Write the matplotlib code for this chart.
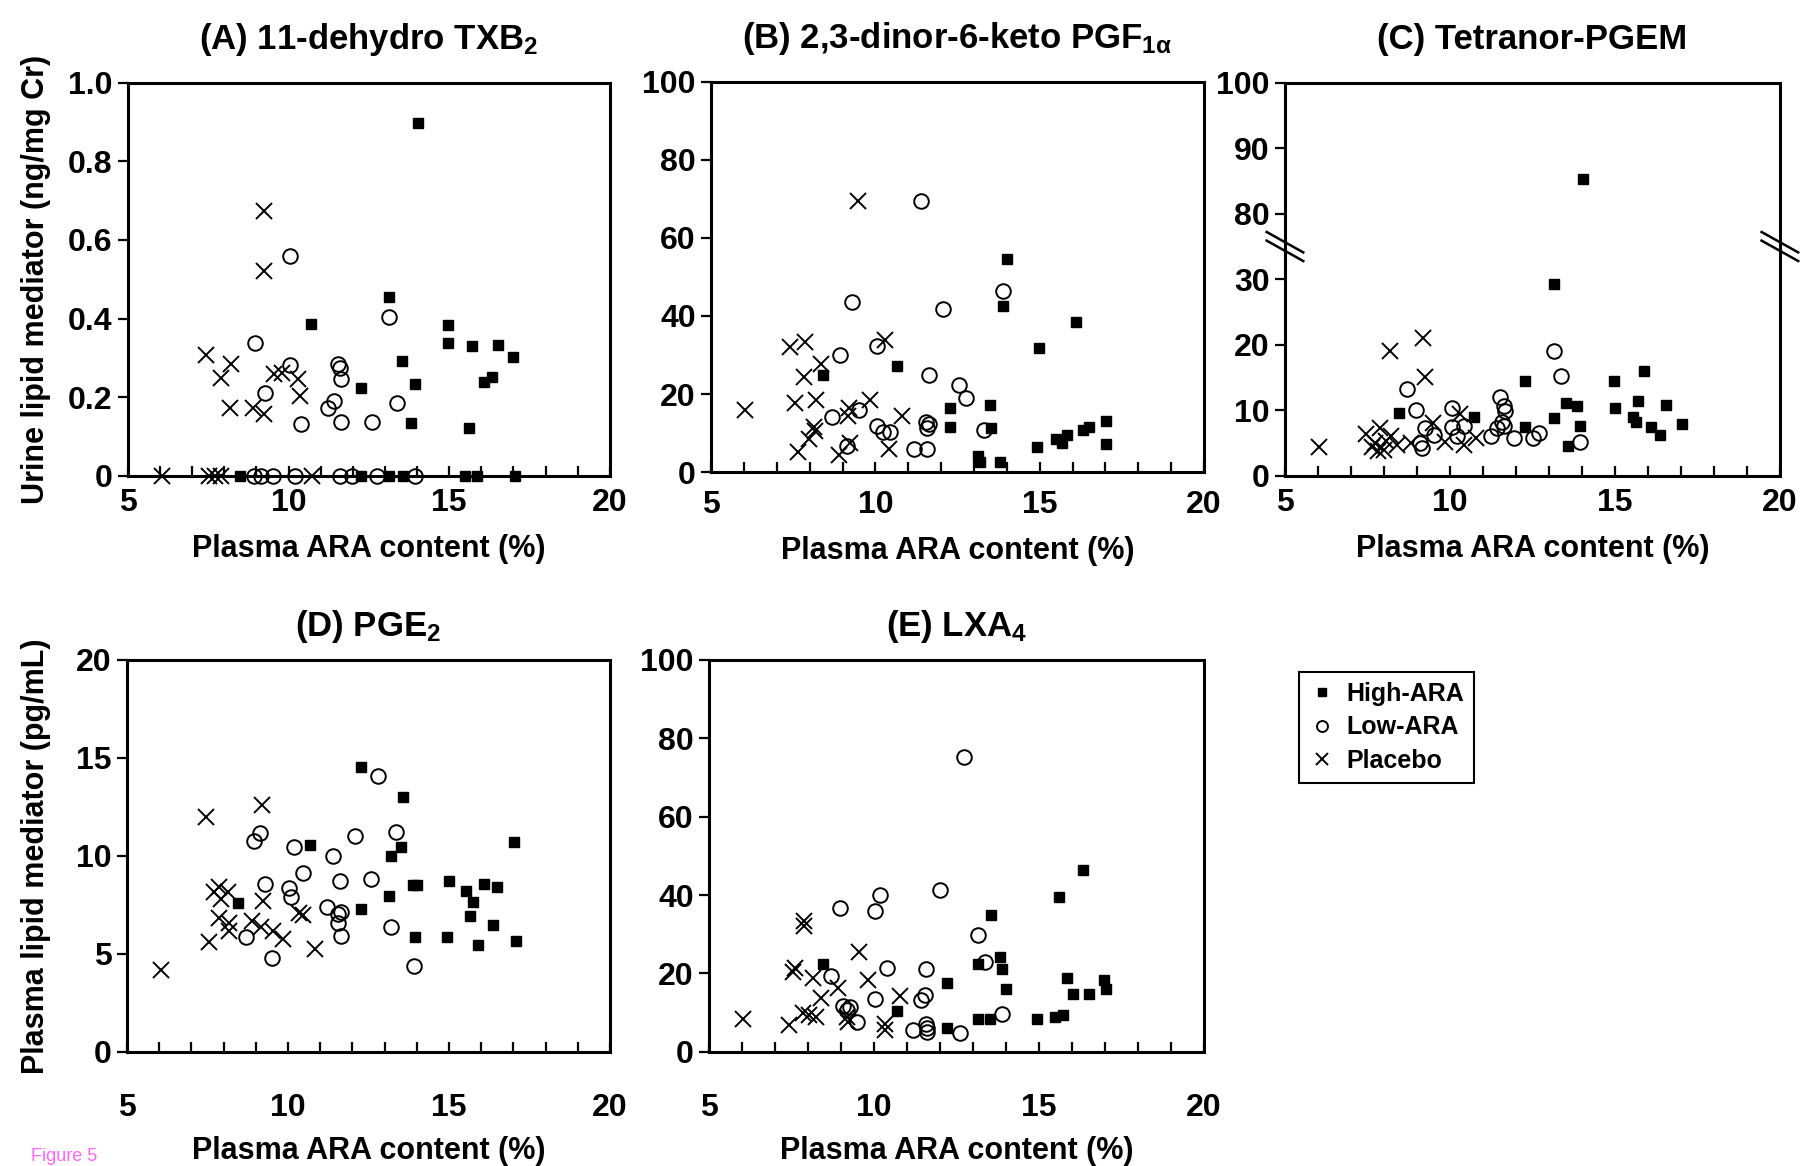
import numpy as np
import matplotlib
matplotlib.use("Agg")
import matplotlib.pyplot as plt
from matplotlib.ticker import FixedLocator, FixedFormatter

plt.rcParams['font.family'] = ['Liberation Sans Narrow', 'Liberation Sans', 'DejaVu Sans']
plt.rcParams['font.weight'] = 'bold'
plt.rcParams['mathtext.fontset'] = 'custom'
plt.rcParams['mathtext.rm'] = 'Liberation Sans:bold'
plt.rcParams['mathtext.it'] = 'Liberation Sans:bold'
plt.rcParams['mathtext.default'] = 'rm'

# ---- data (x = plasma ARA content, %) ----
# (A) 11-dehydro TXB2, ng/mg Cr
a_high_x = [14.02, 13.13, 10.71, 14.95, 14.95, 15.72, 16.52, 16.99, 13.52, 13.92, 16.33,
            16.07, 12.25, 13.81, 15.61, 8.48, 12.25, 13.13, 13.57, 15.48, 15.85, 17.04]
a_high_y = [0.898, 0.454, 0.387, 0.383, 0.338, 0.329, 0.333, 0.301, 0.292, 0.233, 0.252,
            0.238, 0.224, 0.134, 0.122, 0, 0, 0, 0, 0, 0, 0]
a_low_x = [10.04, 13.13, 8.97, 10.04, 11.53, 11.59, 11.63, 9.28, 11.41, 11.22, 13.36,
           10.40, 11.63, 12.61, 8.91, 9.15, 9.50, 10.21, 11.59, 11.96, 12.74, 13.94]
a_low_y = [0.558, 0.405, 0.338, 0.283, 0.285, 0.274, 0.247, 0.211, 0.190, 0.172, 0.184,
           0.131, 0.138, 0.138, 0, 0, 0, 0, 0, 0, 0, 0]
a_pla_x = [9.25, 9.22, 7.43, 7.90, 8.20, 9.56, 9.81, 10.30, 10.36, 8.18, 8.88, 9.22,
           6.05, 7.53, 7.71, 7.90, 10.73]
a_pla_y = [0.674, 0.520, 0.308, 0.249, 0.285, 0.258, 0.262, 0.247, 0.202, 0.172, 0.172, 0.158,
           0, 0, 0, 0, 0]

# (B) 2,3-dinor-6-keto PGF1a, ng/mg Cr
b_high_x = [14.00, 13.87, 16.10, 14.97, 10.65, 8.41, 13.48, 12.26, 12.26, 13.53, 17.02,
            16.51, 16.32, 15.82, 15.51, 15.67, 14.92, 17.02, 13.12, 13.79, 13.17]
b_high_y = [54.5, 42.5, 38.5, 31.8, 27.3, 25.0, 17.2, 16.4, 11.7, 11.4, 13.1,
            11.7, 10.8, 9.5, 8.6, 7.5, 6.4, 7.3, 4.1, 2.7, 2.5]
b_low_x = [11.39, 13.89, 9.28, 12.06, 8.91, 10.05, 11.64, 12.55, 12.77, 9.49, 8.68,
           11.55, 11.64, 11.58, 10.05, 10.22, 10.46, 13.30, 9.14, 11.18, 11.58]
b_low_y = [69.5, 46.4, 43.5, 41.7, 30.0, 32.2, 24.9, 22.3, 19.1, 15.9, 14.1,
           12.9, 12.3, 11.4, 11.8, 10.2, 10.4, 10.9, 6.7, 5.9, 5.9]
b_pla_x = [9.47, 10.28, 7.87, 7.40, 8.36, 7.84, 8.18, 7.55, 6.03, 9.84, 9.20,
           9.17, 10.81, 8.13, 8.16, 7.98, 7.64, 9.24, 8.89, 10.42]
b_pla_y = [69.5, 33.8, 33.4, 32.0, 27.6, 24.3, 18.4, 17.7, 15.9, 18.6, 16.5,
           14.3, 14.5, 11.5, 10.5, 8.4, 5.2, 7.6, 4.3, 5.9]

# (C) Tetranor-PGEM, ng/mg Cr (broken axis)
c_high_x = [14.03, 13.16, 12.26, 14.97, 15.87, 13.53, 13.85, 15.01, 15.71, 16.54, 8.46,
            10.73, 13.16, 15.55, 15.65, 12.26, 13.94, 17.03, 16.10, 16.36, 13.59]
c_high_y = [85.3, 29.3, 14.4, 14.4, 16.0, 11.1, 10.6, 10.3, 11.4, 10.8, 9.6,
            8.9, 8.8, 8.9, 8.2, 7.4, 7.6, 7.9, 7.4, 6.2, 4.6]
c_low_x = [13.16, 13.36, 8.69, 11.53, 11.64, 11.68, 8.96, 10.07, 10.07, 10.42, 9.25, 9.51,
           10.21, 11.59, 11.64, 11.43, 11.24, 11.95, 12.52, 12.70, 13.94, 9.16, 9.08]
c_low_y = [19.0, 15.2, 13.3, 12.0, 10.7, 9.9, 10.0, 10.4, 7.4, 7.6, 7.3, 6.2,
           6.0, 8.2, 7.6, 7.3, 6.0, 5.8, 5.7, 6.5, 5.1, 4.3, 5.0]
c_pla_x = [9.18, 8.17, 9.24, 10.30, 9.49, 10.79, 10.42, 9.86, 8.81, 7.47, 7.88, 8.21,
           8.40, 7.63, 7.82, 8.00, 6.04, 7.74, 8.05]
c_pla_y = [21.0, 19.1, 15.0, 9.5, 8.1, 5.7, 4.7, 5.1, 5.0, 6.3, 7.3, 6.1,
           4.7, 4.4, 3.8, 4.0, 4.4, 5.0, 5.3]

# (D) PGE2, pg/mL
d_high_x = [12.28, 13.56, 17.02, 10.68, 13.51, 13.19, 14.99, 16.10, 16.49, 13.87, 14.00,
            15.54, 15.75, 13.14, 8.45, 12.28, 15.64, 16.37, 13.93, 14.93, 15.90, 17.07]
d_high_y = [14.55, 12.98, 10.73, 10.56, 10.47, 10.0, 8.73, 8.58, 8.41, 8.49, 8.5,
            8.2, 7.65, 7.95, 7.6, 7.28, 6.93, 6.46, 5.84, 5.84, 5.47, 5.66]
d_low_x = [12.78, 13.35, 9.13, 8.94, 12.07, 10.18, 11.40, 10.46, 11.60, 12.57, 9.27,
           10.02, 10.09, 11.21, 11.65, 11.56, 11.56, 13.19, 11.66, 8.71, 9.51, 13.90]
d_low_y = [14.1, 11.2, 11.15, 10.74, 11.03, 10.46, 10.0, 9.1, 8.73, 8.83, 8.58,
           8.34, 7.9, 7.39, 7.13, 7.02, 6.55, 6.36, 5.92, 5.84, 4.76, 4.40]
d_pla_x = [9.20, 7.46, 7.87, 7.71, 8.15, 7.93, 9.22, 7.87, 8.18, 8.18, 8.89, 9.16,
           9.53, 9.83, 10.33, 10.46, 10.85, 7.56, 6.05]
d_pla_y = [12.6, 11.97, 8.43, 8.17, 8.14, 7.8, 7.7, 6.85, 6.59, 6.14, 6.66, 6.38,
           6.14, 5.73, 7.07, 6.97, 5.25, 5.6, 4.16]

# (E) LXA4, pg/mL
e_high_x = [16.32, 15.60, 13.55, 13.81, 13.14, 13.89, 8.46, 12.22, 14.01, 15.84, 16.97,
            17.03, 16.04, 16.50, 10.69, 15.74, 15.49, 13.14, 13.50, 14.93, 12.22]
e_high_y = [46.4, 39.6, 35.0, 24.2, 22.4, 21.2, 22.4, 17.6, 16.0, 18.8, 18.4,
            15.9, 14.8, 14.8, 10.3, 9.3, 8.9, 8.4, 8.4, 8.4, 6.1]
e_low_x = [12.74, 12.01, 10.19, 8.96, 10.02, 13.14, 13.35, 10.40, 11.58, 8.70, 11.53, 11.42,
           10.03, 9.07, 9.28, 9.19, 9.48, 13.89, 11.56, 11.59, 11.62, 11.19, 12.60]
e_low_y = [75.3, 41.4, 40.1, 36.8, 35.9, 29.8, 22.9, 21.5, 21.2, 19.3, 14.4, 13.1,
           13.4, 11.7, 11.4, 10.6, 7.5, 9.7, 7.2, 6.1, 5.0, 5.6, 4.7]
e_pla_x = [7.88, 7.89, 9.53, 7.60, 7.53, 8.15, 9.82, 8.90, 8.38, 10.78, 7.86, 8.03,
           8.23, 9.19, 9.21, 10.32, 10.34, 7.42, 6.04]
e_pla_y = [33.3, 32.2, 25.4, 21.5, 20.4, 18.8, 18.2, 16.3, 13.7, 14.2, 10.0, 9.3,
           8.8, 8.9, 7.6, 7.0, 5.6, 6.7, 8.4]

group_names = ['High-ARA', 'Low-ARA', 'Placebo']

TICK_FS = 23
LABEL_FS = 22
TITLE_FS = 25


def draw_groups(ax, hx, hy, lx, ly, px, py):
    ax.plot(hx, hy, 's', ms=7, color='black', ls='none', clip_on=False, zorder=3,
            label=group_names[0])
    ax.plot(lx, ly, 'o', ms=10.5, mfc='none', mec='black', mew=1.4, ls='none',
            clip_on=False, zorder=3, label=group_names[1])
    ax.plot(px, py, 'x', ms=11, color='black', mew=1.4, ls='none', clip_on=False,
            zorder=3, label=group_names[2])


def style(ax, title, ylim, yticks, ylabels, xpad, xlabelpad, tpad):
    ax.set_xlim(5, 20)
    ax.set_ylim(*ylim)
    ax.set_xticks([5, 10, 15, 20])
    ax.set_xticks(np.arange(5, 21), minor=True)
    ax.yaxis.set_major_locator(FixedLocator(yticks))
    ax.yaxis.set_major_formatter(FixedFormatter(ylabels))
    ax.tick_params(axis='x', which='both', direction='in', length=7, width=1.6,
                   labelsize=TICK_FS, pad=xpad)
    ax.tick_params(axis='y', which='major', direction='out', length=7, width=1.6,
                   labelsize=TICK_FS, pad=4)
    ax.tick_params(axis='y', which='minor', left=False)
    for sp in ax.spines.values():
        sp.set_linewidth(2.2)
    ax.set_title(title, fontsize=TITLE_FS, fontweight='bold', pad=tpad)
    ax.set_xlabel('Plasma ARA content (%)', fontsize=LABEL_FS, fontweight='bold',
                  labelpad=xlabelpad)


fig = plt.figure(figsize=(18.07, 11.66), dpi=100)

axA = fig.add_axes([0.0708, 0.592, 0.2667, 0.337])
axB = fig.add_axes([0.3935, 0.595, 0.2728, 0.335])
axC = fig.add_axes([0.7111, 0.592, 0.2739, 0.337])
axD = fig.add_axes([0.0703, 0.098, 0.2673, 0.336])
axE = fig.add_axes([0.3924, 0.098, 0.2739, 0.336])

# (A)
draw_groups(axA, a_high_x, a_high_y, a_low_x, a_low_y, a_pla_x, a_pla_y)
style(axA, r'(A) 11-dehydro TXB$_2$', (0, 1.0), [0, 0.2, 0.4, 0.6, 0.8, 1.0],
      ['0', '0.2', '0.4', '0.6', '0.8', '1.0'], 9, 11, 24)
axA.set_ylabel('Urine lipid mediator (ng/mg Cr)', fontsize=LABEL_FS, fontweight='bold',
               labelpad=12)

# (B)
draw_groups(axB, b_high_x, b_high_y, b_low_x, b_low_y, b_pla_x, b_pla_y)
style(axB, r'(B) 2,3-dinor-6-keto PGF$_{1\alpha}$', (0, 100), [0, 20, 40, 60, 80, 100],
      ['0', '20', '40', '60', '80', '100'], 13, 11, 24)


# (C) broken y axis: 35..75 squeezed out
def c_fwd(v):
    v = np.asarray(v, dtype=float)
    return np.where(v <= 35, v, np.where(v >= 75, v - 40, 35.0))


def c_inv(m):
    m = np.asarray(m, dtype=float)
    return np.where(m <= 35, m, m + 40)


axC.set_yscale('function', functions=(c_fwd, c_inv))
draw_groups(axC, c_high_x, c_high_y, c_low_x, c_low_y, c_pla_x, c_pla_y)
style(axC, '(C) Tetranor-PGEM', (0, 100), [0, 10, 20, 30, 80, 90, 100],
      ['0', '10', '20', '30', '80', '90', '100'], 9, 11, 24)
yb = 35.0 / 60.0
for xs in (0.0, 1.0):
    for off in (0.011, -0.011):
        axC.plot([xs - 0.037, xs + 0.037], [yb + 0.026 + off, yb - 0.026 + off],
                 transform=axC.transAxes, color='black', lw=1.8, clip_on=False, zorder=5)

# (D)
draw_groups(axD, d_high_x, d_high_y, d_low_x, d_low_y, d_pla_x, d_pla_y)
style(axD, r'(D) PGE$_2$', (0, 20), [0, 5, 10, 15, 20],
      ['0', '5', '10', '15', '20'], 30, 9, 17)
axD.set_ylabel('Plasma lipid mediator (pg/mL)', fontsize=LABEL_FS, fontweight='bold',
               labelpad=18)

# (E)
draw_groups(axE, e_high_x, e_high_y, e_low_x, e_low_y, e_pla_x, e_pla_y)
style(axE, r'(E) LXA$_4$', (0, 100), [0, 20, 40, 60, 80, 100],
      ['0', '20', '40', '60', '80', '100'], 30, 9, 17)

handles, labels = axA.get_legend_handles_labels()
leg = fig.legend(handles, labels, loc='upper left', bbox_to_anchor=(0.719, 0.4237),
                 frameon=True, fancybox=False, edgecolor='black', framealpha=1,
                 fontsize=18, markerscale=0.75, handlelength=1.0, handletextpad=0.5,
                 borderpad=0.4, labelspacing=0.38, borderaxespad=0)
leg.get_frame().set_linewidth(1.5)
for t in leg.get_texts():
    t.set_fontweight('bold')

fig.text(0.017, 0.001, 'Figure 5', color='#ff66ff', fontsize=13, va='bottom',
         fontweight='normal')

fig.savefig('out.png', dpi=100)
